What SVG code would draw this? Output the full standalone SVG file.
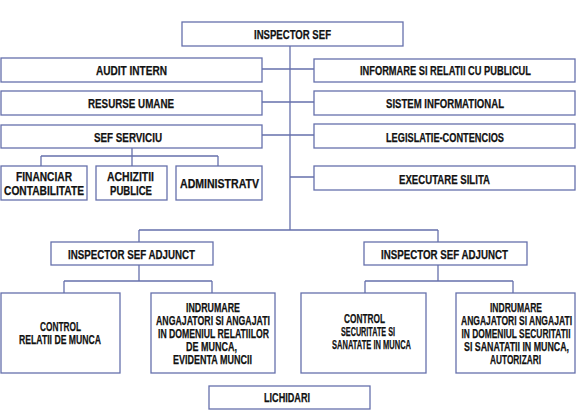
<svg xmlns="http://www.w3.org/2000/svg" width="576" height="420" viewBox="0 0 576 420">
<style>
.b{fill:#fff;stroke:#6670ac;stroke-width:1.3}
.c{fill:none;stroke:#6670ac;stroke-width:1.3}
text{font-family:"Liberation Sans",Arial,sans-serif;font-weight:bold;font-size:12.5px;fill:#111;stroke:#111;stroke-width:0.25;text-anchor:middle}
</style>
<rect width="576" height="420" fill="#fff"/>
<g id="connectors">
<path class="c" d="M290,46V230M262,69H314M262,102H314M262,135H314M290,177H314"/>
<path class="c" d="M132,148V156M41,156H218M41,156V166M132,156V166M218,156V166"/>
<path class="c" d="M139,230H438M139,230V242M438,230V242"/>
<path class="c" d="M139,265V281M64,281H212M64,281V293M212,281V293"/>
<path class="c" d="M438,265V281M365,281H513M365,281V293M513,281V293"/>
</g>
<g id="inspector-sef"><rect class="b" x="182" y="22" width="221" height="24"/><text x="292.5" y="38.5" textLength="77" lengthAdjust="spacingAndGlyphs">INSPECTOR SEF</text></g>
<g id="audit-intern"><rect class="b" x="1" y="58" width="261" height="24"/><text x="131.5" y="75" textLength="71" lengthAdjust="spacingAndGlyphs">AUDIT INTERN</text></g>
<g id="resurse-umane"><rect class="b" x="1" y="91" width="261" height="24"/><text x="131" y="107.5" textLength="86" lengthAdjust="spacingAndGlyphs">RESURSE UMANE</text></g>
<g id="sef-serviciu"><rect class="b" x="1" y="125" width="261" height="23"/><text x="128" y="142" textLength="68" lengthAdjust="spacingAndGlyphs">SEF SERVICIU</text></g>
<g id="financiar"><rect class="b" x="1" y="166" width="86" height="34"/><text x="44" y="180.5" textLength="56" lengthAdjust="spacingAndGlyphs">FINANCIAR</text><text x="44" y="194.5" textLength="80" lengthAdjust="spacingAndGlyphs">CONTABILITATE</text></g>
<g id="achizitii"><rect class="b" x="96" y="166" width="71" height="34"/><text x="130.5" y="180.5" textLength="47" lengthAdjust="spacingAndGlyphs">ACHIZITII</text><text x="131" y="194.5" textLength="42" lengthAdjust="spacingAndGlyphs">PUBLICE</text></g>
<g id="administratv"><rect class="b" x="176" y="166" width="86" height="34"/><text x="219.5" y="187.5" textLength="79" lengthAdjust="spacingAndGlyphs">ADMINISTRATV</text></g>
<g id="informare"><rect class="b" x="314" y="59" width="261" height="23"/><text x="445.5" y="75" textLength="171" lengthAdjust="spacingAndGlyphs">INFORMARE SI RELATII CU PUBLICUL</text></g>
<g id="sistem-informational"><rect class="b" x="314" y="91" width="261" height="24"/><text x="445" y="107.5" textLength="118" lengthAdjust="spacingAndGlyphs">SISTEM INFORMATIONAL</text></g>
<g id="legislatie"><rect class="b" x="314" y="124" width="261" height="24"/><text x="445" y="141.5" textLength="118" lengthAdjust="spacingAndGlyphs">LEGISLATIE-CONTENCIOS</text></g>
<g id="executare-silita"><rect class="b" x="314" y="166" width="261" height="24"/><text x="444.5" y="183.5" textLength="91" lengthAdjust="spacingAndGlyphs">EXECUTARE SILITA</text></g>
<g id="isa-left"><rect class="b" x="51" y="242" width="162" height="23"/><text x="131.5" y="258.5" textLength="127" lengthAdjust="spacingAndGlyphs">INSPECTOR SEF ADJUNCT</text></g>
<g id="isa-right"><rect class="b" x="364" y="242" width="163" height="23"/><text x="444.5" y="258.5" textLength="127" lengthAdjust="spacingAndGlyphs">INSPECTOR SEF ADJUNCT</text></g>
<g id="control-relatii"><rect class="b" x="1" y="293" width="119" height="80"/><text x="60.5" y="331" textLength="41" lengthAdjust="spacingAndGlyphs">CONTROL</text><text x="60" y="344" textLength="82" lengthAdjust="spacingAndGlyphs">RELATII DE MUNCA</text></g>
<g id="indrumare-relatii"><rect class="b" x="151" y="293" width="124" height="80"/><text x="213" y="312" textLength="54" lengthAdjust="spacingAndGlyphs">INDRUMARE</text><text x="213" y="325" textLength="114" lengthAdjust="spacingAndGlyphs">ANGAJATORI SI ANGAJATI</text><text x="213.5" y="338" textLength="111" lengthAdjust="spacingAndGlyphs">IN DOMENIUL RELATIILOR</text><text x="211.5" y="351" textLength="51" lengthAdjust="spacingAndGlyphs">DE MUNCA,</text><text x="212.5" y="364" textLength="79" lengthAdjust="spacingAndGlyphs">EVIDENTA MUNCII</text></g>
<g id="control-securitate"><rect class="b" x="301" y="293" width="125" height="80"/><text x="364.5" y="323" textLength="41" lengthAdjust="spacingAndGlyphs">CONTROL</text><text x="368" y="336" textLength="54" lengthAdjust="spacingAndGlyphs">SECURITATE SI</text><text x="371.5" y="349" textLength="79" lengthAdjust="spacingAndGlyphs">SANATATE IN MUNCA</text></g>
<g id="indrumare-securitate"><rect class="b" x="456" y="293" width="119" height="80"/><text x="516" y="312" textLength="52" lengthAdjust="spacingAndGlyphs">INDRUMARE</text><text x="516.5" y="325" textLength="111" lengthAdjust="spacingAndGlyphs">ANGAJATORI SI ANGAJATI</text><text x="516" y="338" textLength="109" lengthAdjust="spacingAndGlyphs">IN DOMENIUL SECURITATII</text><text x="516.5" y="351" textLength="105" lengthAdjust="spacingAndGlyphs">SI SANATATII IN MUNCA,</text><text x="515.5" y="364" textLength="51" lengthAdjust="spacingAndGlyphs">AUTORIZARI</text></g>
<g id="lichidari"><rect class="b" x="209" y="386" width="161" height="23"/><text x="287" y="401.5" textLength="46" lengthAdjust="spacingAndGlyphs">LICHIDARI</text></g>
</svg>
